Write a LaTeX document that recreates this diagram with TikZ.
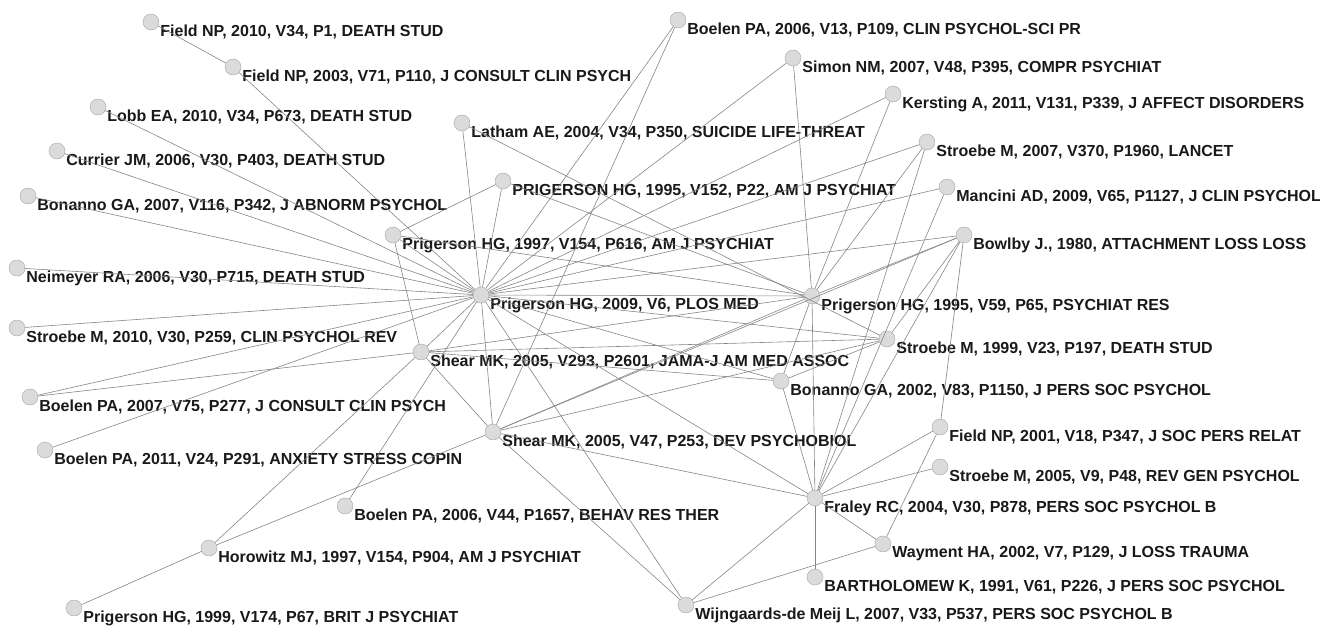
\documentclass[tikz,border=0pt]{standalone}
\usepackage{fontspec}
\setmainfont{Liberation Sans}
\usepackage{xcolor}
\usepackage{tikz}

\begin{document}
\begin{tikzpicture}[x=1pt,y=-1pt,
                    paper/.style={circle,draw=black!35,fill=black!14,minimum size=16pt,inner sep=0pt,
                                  label={[anchor=west,inner sep=0pt,xshift=1pt,yshift=-10pt,
                                          text=black!90,font=\fontsize{16}{18}\selectfont\bfseries]right:#1}},
                    link/.style={draw=black!48,line width=0.6pt}]
        \useasboundingbox (0,0) rectangle (1320,626);
        % left column
        \node[paper={Field NP, 2010, V34, P1, DEATH STUD}] (field10) at (151,22) {};
        \node[paper={Field NP, 2003, V71, P110, J CONSULT CLIN PSYCH}] (field03) at (233,67) {};
        \node[paper={Lobb EA, 2010, V34, P673, DEATH STUD}] (lobb) at (98,107) {};
        \node[paper={Currier JM, 2006, V30, P403, DEATH STUD}] (currier) at (57,151) {};
        \node[paper={Bonanno GA, 2007, V116, P342, J ABNORM PSYCHOL}] (bonanno07) at (28,196) {};
        \node[paper={Neimeyer RA, 2006, V30, P715, DEATH STUD}] (neimeyer) at (17,268) {};
        \node[paper={Stroebe M, 2010, V30, P259, CLIN PSYCHOL REV}] (stroebe10) at (17,328) {};
        \node[paper={Boelen PA, 2007, V75, P277, J CONSULT CLIN PSYCH}] (boelen07) at (30,397) {};
        \node[paper={Boelen PA, 2011, V24, P291, ANXIETY STRESS COPIN}] (boelen11) at (45,450) {};
        \node[paper={Prigerson HG, 1999, V174, P67, BRIT J PSYCHIAT}] (prig99) at (74,608) {};
        \node[paper={Horowitz MJ, 1997, V154, P904, AM J PSYCHIAT}] (horowitz) at (209,548) {};
        \node[paper={Boelen PA, 2006, V44, P1657, BEHAV RES THER}] (boelen06b) at (345,506) {};
        % middle
        \node[paper={Shear MK, 2005, V47, P253, DEV PSYCHOBIOL}] (shear47) at (493,432) {};
        \node[paper={Shear MK, 2005, V293, P2601, JAMA-J AM MED ASSOC}] (shear293) at (421,352) {};
        \node[paper={Prigerson HG, 2009, V6, PLOS MED}] (prig09) at (481,295) {};
        \node[paper={Prigerson HG, 1997, V154, P616, AM J PSYCHIAT}] (prig97) at (393,235) {};
        \node[paper={PRIGERSON HG, 1995, V152, P22, AM J PSYCHIAT}] (prig95a) at (503,181) {};
        \node[paper={Latham AE, 2004, V34, P350, SUICIDE LIFE-THREAT}] (latham) at (462,123) {};
        \node[paper={Boelen PA, 2006, V13, P109, CLIN PSYCHOL-SCI PR}] (boelen06a) at (678,20) {};
        % right column
        \node[paper={Simon NM, 2007, V48, P395, COMPR PSYCHIAT}] (simon) at (793,58) {};
        \node[paper={Kersting A, 2011, V131, P339, J AFFECT DISORDERS}] (kersting) at (893,94) {};
        \node[paper={Stroebe M, 2007, V370, P1960, LANCET}] (stroebe07) at (927,142) {};
        \node[paper={Mancini AD, 2009, V65, P1127, J CLIN PSYCHOL}] (mancini) at (947,187) {};
        \node[paper={Bowlby J., 1980, ATTACHMENT LOSS LOSS}] (bowlby) at (964,235) {};
        \node[paper={Prigerson HG, 1995, V59, P65, PSYCHIAT RES}] (prig95b) at (812,296) {};
        \node[paper={Stroebe M, 1999, V23, P197, DEATH STUD}] (stroebe99) at (887,339) {};
        \node[paper={Bonanno GA, 2002, V83, P1150, J PERS SOC PSYCHOL}] (bonanno02) at (781,381) {};
        \node[paper={Field NP, 2001, V18, P347, J SOC PERS RELAT}] (field01) at (940,427) {};
        \node[paper={Stroebe M, 2005, V9, P48, REV GEN PSYCHOL}] (stroebe05) at (940,467) {};
        \node[paper={Fraley RC, 2004, V30, P878, PERS SOC PSYCHOL B}] (fraley) at (815,498) {};
        \node[paper={Wayment HA, 2002, V7, P129, J LOSS TRAUMA}] (wayment) at (883,544) {};
        \node[paper={BARTHOLOMEW K, 1991, V61, P226, J PERS SOC PSYCHOL}] (bartholomew) at (815,577) {};
        \node[paper={Wijngaards-de Meij L, 2007, V33, P537, PERS SOC PSYCHOL B}] (wijngaards) at (686,605) {};
        % co-citation links
        \foreach \b in {field03,lobb,currier,bonanno07,neimeyer,stroebe10,boelen07,boelen11,prig97,latham,
                        prig95a,boelen06a,simon,kersting,stroebe07,mancini,bowlby,prig95b,stroebe99,
                        bonanno02,shear293,shear47,boelen06b,wijngaards,fraley}
                \draw[link] (prig09) -- (\b);
        \foreach \a/\b in {field10/field03, prig97/prig95a, prig97/shear293, prig97/prig95b, prig95a/prig95b,
                           latham/stroebe99, boelen06a/shear47, simon/prig95b, kersting/prig95b,
                           stroebe07/prig95b, stroebe07/fraley, mancini/fraley, bowlby/prig95b,
                           bowlby/stroebe99, bowlby/fraley, bowlby/field01, bowlby/shear47,
                           shear293/boelen07, shear293/horowitz, shear293/shear47, shear293/prig95b,
                           shear293/stroebe99, shear293/bonanno02, shear47/horowitz, shear47/wijngaards,
                           shear47/fraley, shear47/prig95b, shear47/stroebe99, horowitz/prig99,
                           prig95b/fraley, prig95b/bonanno02, stroebe99/bonanno02, bonanno02/fraley,
                           fraley/field01, fraley/stroebe05, fraley/wayment, fraley/bartholomew,
                           fraley/wijngaards, wayment/wijngaards, wayment/field01}
                \draw[link] (\a) -- (\b);
\end{tikzpicture}
\end{document}
